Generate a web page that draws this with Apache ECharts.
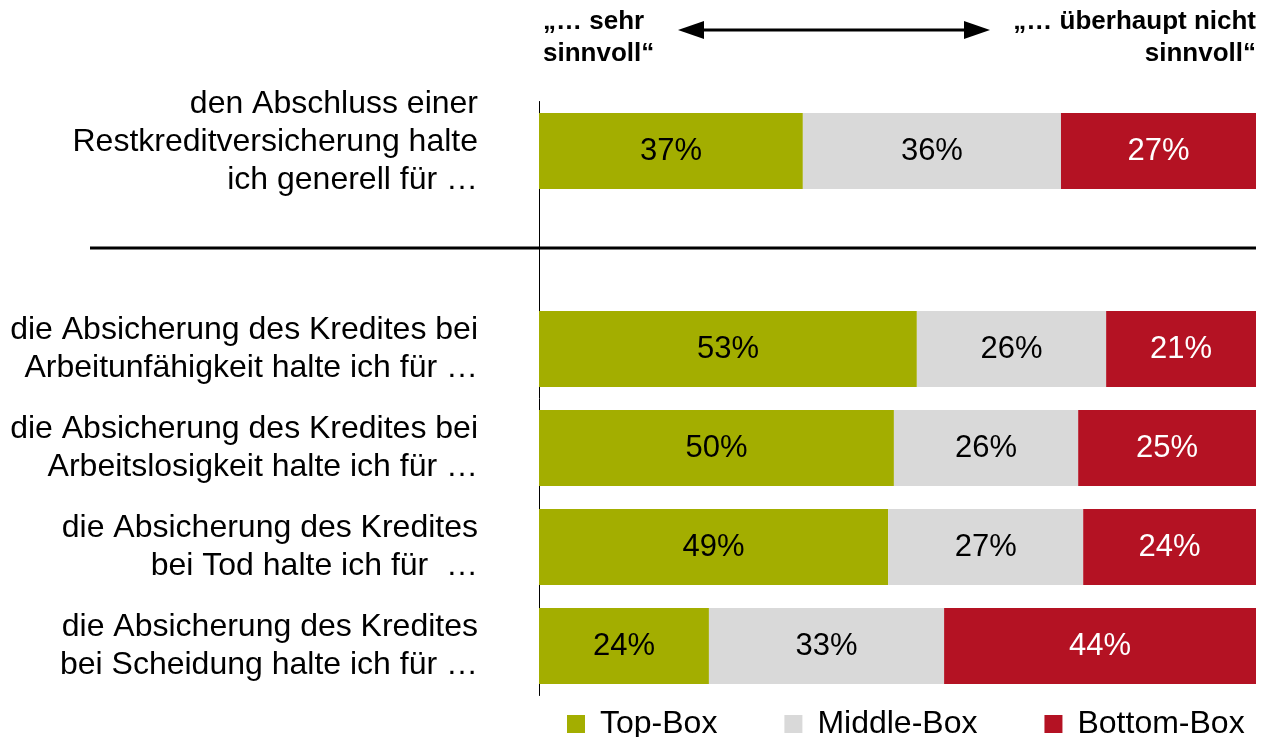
<!DOCTYPE html>
<html>
<head>
<meta charset="utf-8">
<script src="https://cdn.jsdelivr.net/npm/echarts@6/dist/echarts.min.js"></script>
<style>
  html, body { margin: 0; padding: 0; background: #fff; }
  #chart { width: 1261px; height: 737px; }
</style>
</head>
<body>
<div id="chart"></div>
<script>
  // statements, top to bottom; the empty one is the gap under the first row
  const categories = [
    'den Abschluss einer\nRestkreditversicherung halte\nich generell für …',
    '',
    'die Absicherung des Kredites bei\nArbeitunfähigkeit halte ich für …',
    'die Absicherung des Kredites bei\nArbeitslosigkeit halte ich für …',
    'die Absicherung des Kredites\nbei Tod halte ich für  …',
    'die Absicherung des Kredites\nbei Scheidung halte ich für …'
  ]
  const topBox = [36.8, null, 52.7, 49.5, 48.7, 23.7]
  const middleBox = [36.0, null, 26.4, 25.7, 27.2, 32.8]
  const bottomBox = [27.2, null, 20.9, 24.8, 24.1, 43.5]
  const seriesNames = ['Top-Box', 'Middle-Box', 'Bottom-Box']

  const font = '"Liberation Sans", Arial, sans-serif'
  const chart = echarts.init(document.getElementById('chart'))

  function barSeries (name, data, color, labelColor) {
    return {
      name: name,
      type: 'bar',
      stack: 'total',
      data: data,
      barWidth: 76,
      itemStyle: { color: color },
      label: {
        show: true,
        position: 'inside',
        color: labelColor,
        fontFamily: font,
        fontSize: 31,
        formatter: p => Math.round(p.value) + '%'
      }
    }
  }

  const option = {
    animation: false,
    backgroundColor: '#fff',
    grid: { left: 539, right: 5, top: 101.5, height: 594, containLabel: false },
    legend: {
      data: seriesNames,
      left: 562,
      top: 703,
      icon: 'rect',
      itemWidth: 18,
      itemHeight: 18,
      itemGap: 67,
      textStyle: { fontFamily: font, fontSize: 32, color: '#000', padding: [0, 0, 0, 10] }
    },
    xAxis: {
      type: 'value',
      min: 0,
      max: 100,
      show: false
    },
    yAxis: {
      type: 'category',
      inverse: true,
      data: categories,
      axisLine: { show: true, lineStyle: { color: '#000', width: 1 } },
      axisTick: { show: false },
      axisLabel: {
        margin: 61,
        align: 'right',
        fontFamily: font,
        fontSize: 32,
        lineHeight: 38,
        color: '#000',
        // the three-line label sits a bit higher than its bar
        formatter: (v, i) => i === 0 ? v + '\n{gap|}' : v,
        rich: { gap: { height: 18, lineHeight: 18, fontSize: 10 } }
      }
    },
    series: [
      barSeries(seriesNames[0], topBox, '#a3ae00', '#000'),
      barSeries(seriesNames[1], middleBox, '#d9d9d9', '#000'),
      barSeries(seriesNames[2], bottomBox, '#b41223', '#fff')
    ],
    graphic: [
      // separator under the first statement
      { type: 'line', shape: { x1: 90, y1: 248, x2: 1256, y2: 248 }, style: { stroke: '#000', lineWidth: 3 } },
      // scale header
      { type: 'line', shape: { x1: 695, y1: 30, x2: 975, y2: 30 }, style: { stroke: '#000', lineWidth: 3 } },
      { type: 'polygon', shape: { points: [[678, 30], [704, 21], [704, 39]] }, style: { fill: '#000' } },
      { type: 'polygon', shape: { points: [[990, 30], [964, 21], [964, 39]] }, style: { fill: '#000' } },
      { type: 'text', x: 543, y: 9, style: { text: '„… sehr', font: 'bold 26px ' + font, fill: '#000', verticalAlign: 'top' } },
      { type: 'text', x: 543, y: 41, style: { text: 'sinnvoll“', font: 'bold 26px ' + font, fill: '#000', verticalAlign: 'top' } },
      { type: 'text', x: 1256, y: 9, style: { text: '„… überhaupt nicht', font: 'bold 26px ' + font, fill: '#000', align: 'right', verticalAlign: 'top' } },
      { type: 'text', x: 1256, y: 41, style: { text: 'sinnvoll“', font: 'bold 26px ' + font, fill: '#000', align: 'right', verticalAlign: 'top' } }
    ]
  }

  chart.setOption(option)
  window.addEventListener('resize', () => {
    chart.resize()
  })
</script>
</body>
</html>
